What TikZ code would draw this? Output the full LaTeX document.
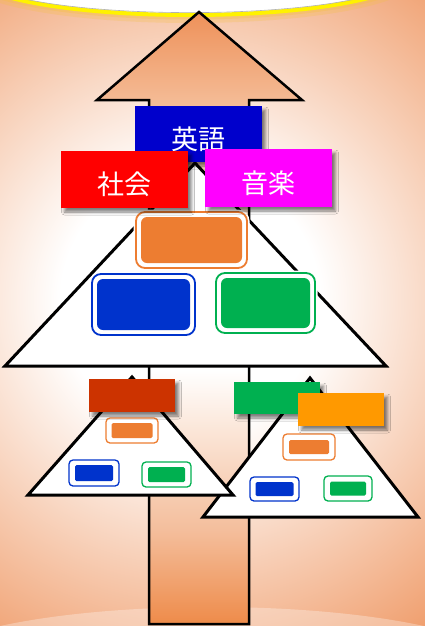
\documentclass[tikz,border=0pt]{standalone}
\usepackage{fontspec}
\newfontfamily\jp{Noto Sans CJK JP}
\usetikzlibrary{shadows.blur}
\definecolor{bgpeach}{HTML}{F0A070}
\definecolor{glowc}{HTML}{F5C040}
\definecolor{cOr}{HTML}{ED7D31}
\definecolor{cBl}{HTML}{0033CC}
\definecolor{cGr}{HTML}{00B050}
\definecolor{lBlue}{HTML}{0000CC}
\definecolor{lRed}{HTML}{FF0000}
\definecolor{lMag}{HTML}{FF00FF}
\definecolor{lBrown}{HTML}{CC3300}
\definecolor{lOrange}{HTML}{FF9900}
\definecolor{aA}{HTML}{EE9058}
\definecolor{aB}{HTML}{F4BA94}
\definecolor{aC}{HTML}{FBE3D3}
\definecolor{aD}{HTML}{FBE6D8}
\definecolor{aE}{HTML}{F4BE9C}
\definecolor{aF}{HTML}{EE8A48}
\pgfdeclareradialshading{bgshade}{\pgfpoint{0bp}{0bp}}{color(0bp)=(white); color(7.2bp)=(white); color(22.2bp)=(bgpeach); color(25bp)=(bgpeach); color(50bp)=(bgpeach)}
\tikzset{
  tri/.style={fill=white, draw=black, line width=3, line join=miter},
  obox/.style={draw=#1, fill=white, rectangle, inner sep=0, outer sep=0},
  ibox/.style={fill=#1, rectangle, inner sep=0, outer sep=0},
  bigo/.style={line width=1.8, rounded corners=9, preaction={draw=white, line width=5}},
  bigi/.style={rounded corners=6},
  smo/.style={line width=1.3, rounded corners=4},
  smi/.style={rounded corners=1.5},
  lab/.style={rectangle, inner sep=0, text=white, font=\jp\fontsize{27}{27}\selectfont,
    blur shadow={shadow xshift=3.5pt, shadow yshift=-4pt, shadow blur radius=3pt, shadow opacity=50}},
  labtxt/.style={text height=30pt, text depth=0pt}
}
\newcommand\twobox[9]{%
  \node[obox=#2, #9o, minimum width=#5, minimum height=#6] (#1) at (#3,#4) {};
  \node[ibox=#2, #9i, minimum width=#7, minimum height=#8] (#1-in) at (#3,#4) {};
}
\begin{document}
\begin{tikzpicture}[x=1pt, y=-1pt]
\useasboundingbox (0,0) rectangle (425,626);
% background
\begin{scope}
  \clip (0,0) rectangle (425,626);
  \fill[bgpeach] (0,0) rectangle (425,626);
  \shade[shading=bgshade] (190,300) circle[radius=450];
  \fill[white, opacity=0.3] (212,672) ellipse[x radius=300, y radius=65];
  \draw[glowc, opacity=0.25, line width=16] (190,-26) ellipse[x radius=220, y radius=41];
  \draw[glowc, opacity=0.35, line width=9] (190,-26) ellipse[x radius=220, y radius=41];
  \fill[white] (190,-26) ellipse[x radius=220, y radius=41];
  \draw[yellow, line width=4] (190,-26) ellipse[x radius=220, y radius=41];
  \draw[gray!60, line width=0.6] (190,-26) ellipse[x radius=217.6, y radius=38.6];
\end{scope}
% big arrow
\begin{scope}
  \clip (199,12) -- (302,100) -- (249,100) -- (249,624) -- (149,624) -- (149,100) -- (97,100) -- cycle;
  \shade[top color=aA, bottom color=aB] (90,10) rectangle (310,100);
  \shade[top color=aB, bottom color=aC] (90,100) rectangle (310,230);
  \shade[top color=aC, bottom color=white] (90,230) rectangle (310,370);
  \shade[top color=white, bottom color=aD] (90,370) rectangle (310,430);
  \shade[top color=aD, bottom color=aE] (90,430) rectangle (310,530);
  \shade[top color=aE, bottom color=aF] (90,530) rectangle (310,626);
\end{scope}
\draw[line width=2.5, line join=miter] (199,12) -- (302,100) -- (249,100) -- (249,624) -- (149,624) -- (149,100) -- (97,100) -- cycle;
% triangles
\draw[tri] (5,366) -- (195,163) -- (386,366) -- cycle;
\draw[tri] (203,517) -- (310,378) -- (418,517) -- cycle;
\draw[tri] (28,495) -- (132,377) -- (233,495) -- cycle;
% boxes in big triangle
\twobox{bor}{cOr}{191.5}{240}{111}{56}{101}{46}{big}
\twobox{bbl}{cBl}{143.5}{304.5}{103}{61}{93}{51}{big}
\twobox{bgr}{cGr}{265.5}{303}{99}{60}{89}{50}{big}
% boxes in left small triangle
\twobox{lor}{cOr}{132}{430.5}{52}{25}{41}{15}{sm}
\twobox{lbl}{cBl}{94}{473}{50}{26}{38}{16}{sm}
\twobox{lgr}{cGr}{166.5}{474.5}{49}{25}{37}{15}{sm}
% boxes in right small triangle
\twobox{ror}{cOr}{309}{447}{52}{26}{40}{14}{sm}
\twobox{rbl}{cBl}{274.5}{489}{49}{24}{38}{14}{sm}
\twobox{rgr}{cGr}{348}{488.5}{48}{25}{36}{14}{sm}
% labels
\node[lab, labtxt, fill=lBlue, minimum width=127, minimum height=56] (eigo) at (198.5,134) {英語};
\node[lab, labtxt, fill=lRed, minimum width=127, minimum height=57] (shakai) at (124.5,179.5) {社会};
\node[lab, labtxt, fill=lMag, minimum width=127, minimum height=58] (ongaku) at (268.5,178) {音楽};
\node[lab, fill=lBrown, minimum width=86, minimum height=33] (lbrown) at (132,395.5) {};
\node[lab, fill=cGr, minimum width=86, minimum height=32] (lgreen) at (277,398) {};
\node[lab, fill=lOrange, minimum width=86, minimum height=33] (lorange) at (341,409.5) {};
\end{tikzpicture}
\end{document}
